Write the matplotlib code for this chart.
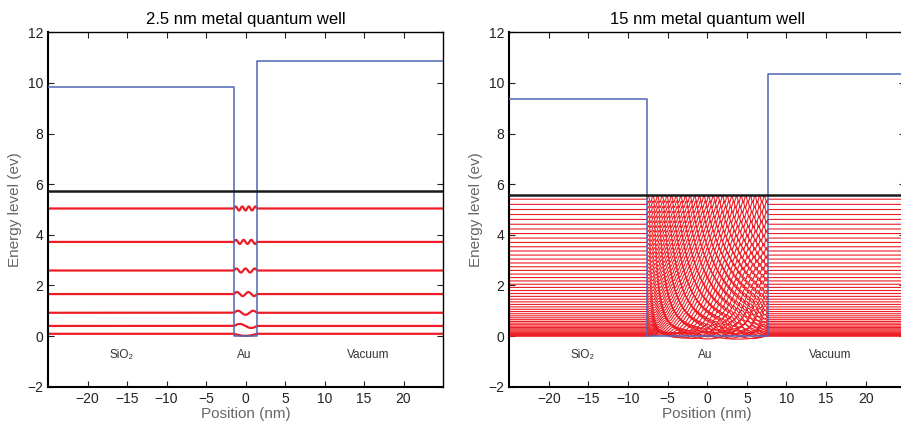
import matplotlib

matplotlib.use("Agg")
import matplotlib.pyplot as plt
import numpy as np

plt.rcParams["font.family"] = ["Liberation Sans", "DejaVu Sans"]

X_RANGE = (-25, 25)
Y_RANGE = (-2, 12)

# 2.5 nm well (left panel)
THIN_TITLE = "2.5 nm metal quantum well"
THIN_WELL = (-1.45, 1.45)
THIN_BARRIERS = (9.85, 10.85)  # SiO2 side, vacuum side
THIN_FERMI = 5.75
THIN_LEVELS = [0.09, 0.40, 0.92, 1.66, 2.59, 3.72, 5.04]
THIN_SIGNS = [-1, 1, 1, 1, 1, 1, 1]

# 15 nm well (right panel)
THICK_TITLE = "15 nm metal quantum well"
THICK_WELL = (-7.6, 7.65)
THICK_BARRIERS = (9.35, 10.35)
THICK_FERMI = 5.58
THICK_LEVELS = [
    0.002, 0.008, 0.018, 0.032, 0.050, 0.072, 0.098, 0.128, 0.162, 0.200,
    0.242, 0.288, 0.338, 0.392, 0.450, 0.512, 0.578, 0.648, 0.722, 0.800,
    0.882, 0.968, 1.058, 1.152, 1.250, 1.352, 1.458, 1.568, 1.682, 1.800,
    1.922, 2.048, 2.178, 2.312, 2.450, 2.592, 2.738, 2.888, 3.042, 3.200,
    3.362, 3.528, 3.698, 3.872, 4.050, 4.232, 4.418, 4.608, 4.802, 5.000,
    5.202, 5.408,
]

REGION_LABELS = ["SiO₂", "Au", "Vacuum"]
REGION_X = [-15.7, -0.2, 15.5]
REGION_Y = -0.75

POT_COLOR = "#5066b4"


def draw_panel(ax, title, well, barriers, fermi, levels, signs, lw, amp):
    left, right = well
    for n, (energy, sign) in enumerate(zip(levels, signs), start=1):
        x_in = np.linspace(left, right, 40 * n + 60)
        t = (x_in - left) / (right - left)
        y_in = energy + sign * amp * np.sin(n * np.pi * t)
        xs = np.concatenate([[X_RANGE[0]], x_in, [X_RANGE[1]]])
        ys = np.concatenate([[energy], y_in, [energy]])
        ax.plot(xs, ys, color="#ee1c24", lw=lw, zorder=2)

    pot_x = [X_RANGE[0], left, left, right, right, X_RANGE[1]]
    pot_y = [barriers[0], barriers[0], 0, 0, barriers[1], barriers[1]]
    ax.plot(pot_x, pot_y, color=POT_COLOR, lw=1.1, zorder=3)
    ax.axhline(fermi, color="#1a1a1a", lw=1.8, zorder=4)

    for label, x in zip(REGION_LABELS, REGION_X):
        ax.text(x, REGION_Y, label, ha="center", va="center", fontsize=8.5,
                color="#333333")

    ax.set_xlim(*X_RANGE)
    ax.set_ylim(*Y_RANGE)
    ax.set_xticks(np.arange(-20, 21, 5))
    ax.set_yticks(np.arange(-2, 13, 2))
    ax.tick_params(direction="in", top=True, right=True, length=4,
                   labelsize=10, colors="#222222")
    for side in ["left", "bottom"]:
        ax.spines[side].set_linewidth(1.5)
    for side in ["top", "right"]:
        ax.spines[side].set_linewidth(1.0)
    ax.set_xlabel("Position (nm)", fontsize=11, color="#666666", labelpad=1)
    ax.set_ylabel("Energy level (ev)", fontsize=11, color="#666666")
    ax.set_title(title, fontsize=12, pad=6)


fig = plt.figure(figsize=(9.01, 4.28), dpi=100)
ax_thin = fig.add_axes([0.0533, 0.0965, 0.4384, 0.828])
ax_thick = fig.add_axes([0.5653, 0.0965, 0.4393, 0.828])

draw_panel(ax_thin, THIN_TITLE, THIN_WELL, THIN_BARRIERS, THIN_FERMI,
           THIN_LEVELS, THIN_SIGNS, lw=1.6, amp=0.08)
draw_panel(ax_thick, THICK_TITLE, THICK_WELL, THICK_BARRIERS, THICK_FERMI,
           THICK_LEVELS, [1] * len(THICK_LEVELS), lw=0.8, amp=0.13)

fig.savefig("out.png", dpi=100)
